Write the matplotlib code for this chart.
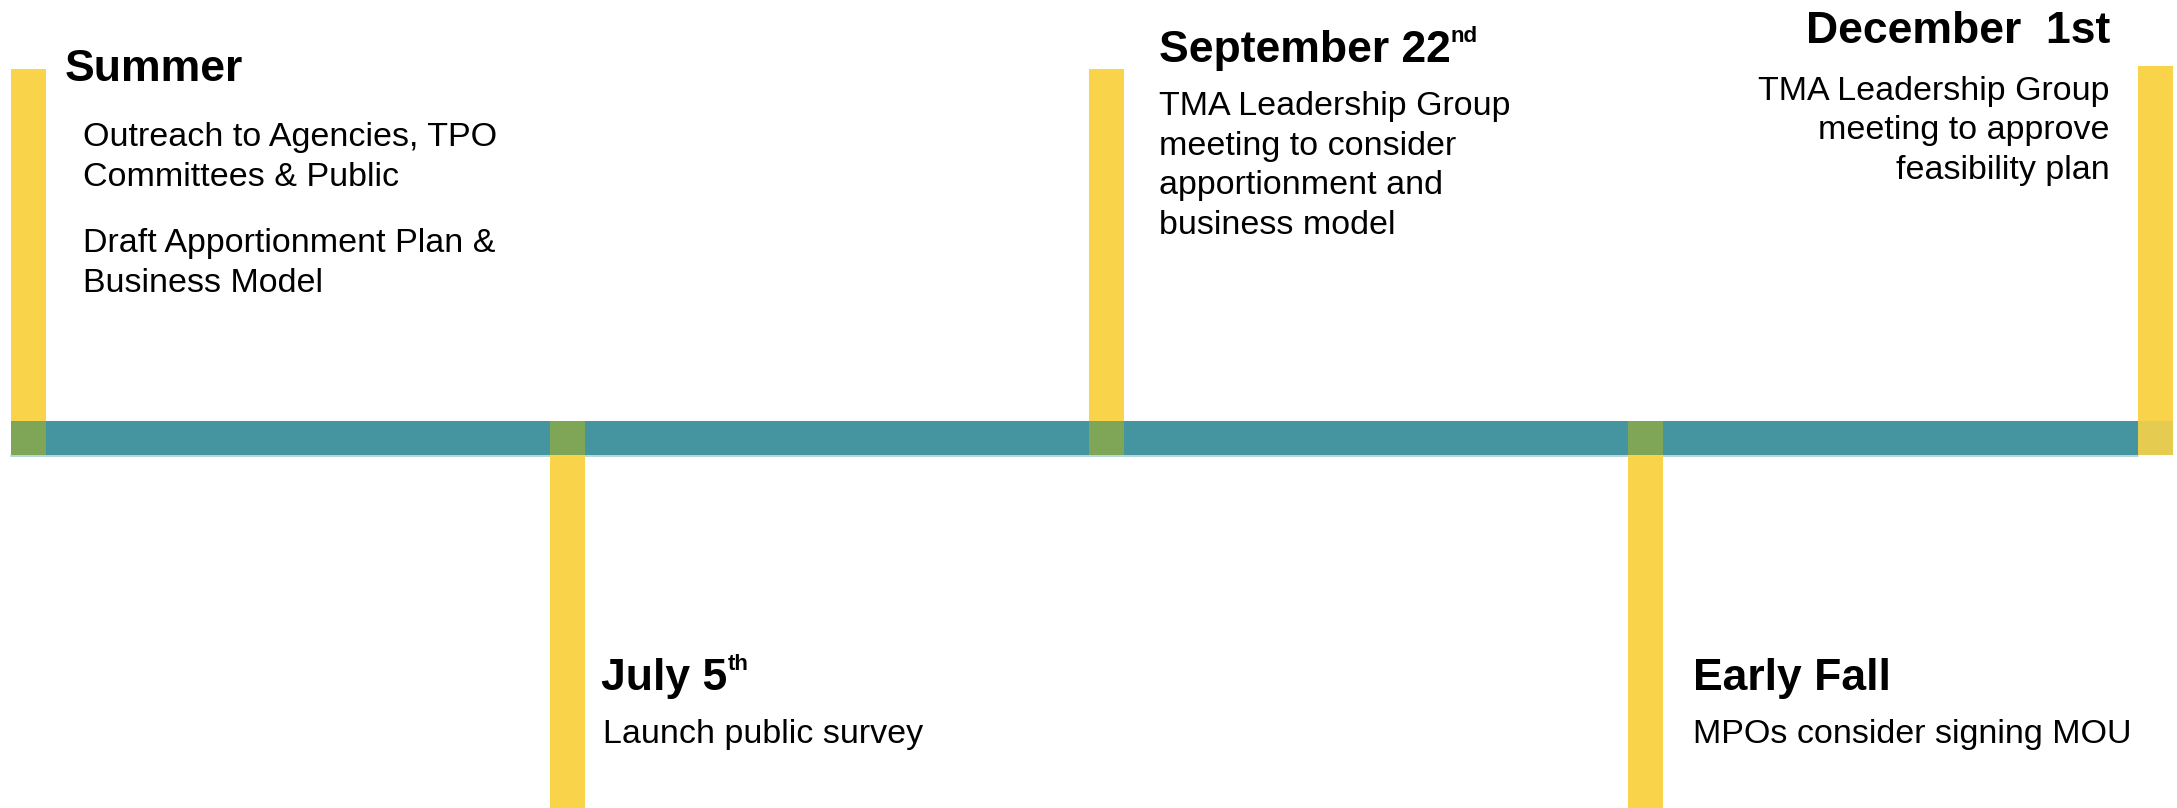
import matplotlib
matplotlib.use("Agg")
import matplotlib.pyplot as plt

# timeline content
titles = ["Summer", "July 5", "September 22", "Early Fall", "December  1st"]
title_sups = ["", "th", "nd", "", ""]
sides = ["above", "below", "above", "below", "above"]
bodies = [
    [["Outreach to Agencies, TPO", "Committees & Public"],
     ["Draft Apportionment Plan &", "Business Model"]],
    [["Launch public survey"]],
    [["TMA Leadership Group", "meeting to consider", "apportionment and", "business model"]],
    [["MPOs consider signing MOU"]],
    [["TMA Leadership Group", "meeting to approve", "feasibility plan"]],
]

# layout (pixel space of the 2177x808 canvas)
W, H = 2177, 808
bar_left = [11, 550, 1089, 1628, 2138]
bar_w = 35
axis_top, axis_bot = 421, 455
up_top = [69, 69, 69, 69, 66]
text_x = [83, 603, 1159, 1693, 2110]
head_x = [65, 601, 1159, 1693, 2110]
halign = ["left", "left", "left", "left", "right"]
head_y = [81, 690, 62, 690, 43]
body_y = [146, 743, 115, 743, 100]
line_step = 39.5
para_gap = 27

YELLOW = "#F9D44A"
TEAL = "#4595A0"
GREEN = "#7FA656"
LAST_OVERLAP = "#E5CB50"

plt.rcParams['font.family'] = ['Liberation Sans', 'DejaVu Sans']

fig = plt.figure(figsize=(W / 100, H / 100), dpi=100)
ax = fig.add_axes([0, 0, 1, 1])
ax.set_xlim(0, W)
ax.set_ylim(H, 0)
ax.axis("off")

# main timeline bar
ax.barh(axis_top, bar_left[-1] - bar_left[0], height=axis_bot - axis_top,
        left=bar_left[0], align="edge", color=TEAL, zorder=1)
ax.plot([bar_left[0], bar_left[-1]], [axis_bot + 1, axis_bot + 1],
        color="#A9D0D6", lw=1.2, zorder=1)

for i, side in enumerate(sides):
    if side == "above":
        top, bot = up_top[i], axis_bot
    else:
        top, bot = axis_top, H
    ax.bar(bar_left[i], bot - top, width=bar_w, bottom=top, align="edge",
           color=YELLOW, zorder=2)
    overlap = LAST_OVERLAP if i == len(sides) - 1 else GREEN
    ax.bar(bar_left[i], axis_bot - axis_top, width=bar_w, bottom=axis_top,
           align="edge", color=overlap, zorder=3)

    # heading
    t = ax.text(head_x[i], head_y[i], titles[i], ha=halign[i], va="baseline",
                fontsize=32, fontweight="bold", color="black", zorder=4)
    if title_sups[i]:
        ax.annotate(title_sups[i], xy=(1.0, 1.0), xycoords=t,
                    xytext=(0, 3), textcoords="offset points",
                    ha="left", va="top", fontsize=16, fontweight="bold",
                    color="black", zorder=4)

    # body paragraphs
    y = body_y[i]
    for p, para in enumerate(bodies[i]):
        if p > 0:
            y += para_gap
        for line in para:
            ax.text(text_x[i], y, line, ha=halign[i], va="baseline",
                    fontsize=24.5, color="black", zorder=4)
            y += line_step

fig.savefig("out.png", dpi=100, facecolor="white")
